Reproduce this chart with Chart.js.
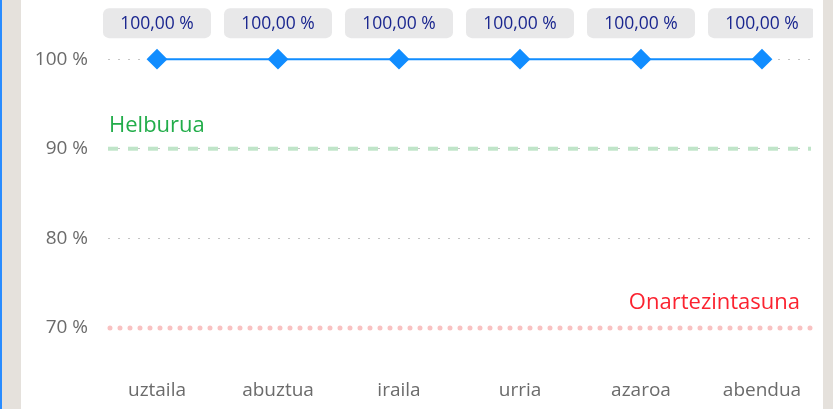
<!DOCTYPE html>
<html>
<head>
<meta charset="utf-8">
<script src="https://cdn.jsdelivr.net/npm/chart.js@4/dist/chart.umd.min.js"></script>
<style>
  html, body { margin: 0; padding: 0; }
  body { width: 833px; height: 409px; background: #e5e1dc; position: relative; overflow: hidden; }
  #borde { position: absolute; left: 0; top: 0; width: 2px; height: 409px; background: #2a8cff; }
  #panel { position: absolute; left: 21px; top: 0; width: 802px; height: 409px; background: #fff; }
</style>
</head>
<body>
<div id="borde"></div>
<div id="panel"><canvas id="lienzo" width="802" height="409"></canvas></div>
<script>
// Datos del gráfico
const meses = ['uztaila', 'abuztua', 'iraila', 'urria', 'azaroa', 'abendua'];
const valores = [100, 100, 100, 100, 100, 100];
const etiquetasY = [70, 80, 90, 100];

// Líneas de referencia
const refNombres = ['Helburua', 'Onartezintasuna'];
const refValores = [90, 70];

const fuente = "'Open Sans', 'Noto Sans', sans-serif";

// Plugin para las líneas de referencia
const lineasRef = {
  id: 'lineasRef',
  beforeDatasetsDraw(chart) {
    const c = chart.ctx;
    const area = chart.chartArea;
    const y = chart.scales.y;
    c.save();
    // Helburua (verde, rayas)
    let py = y.getPixelForValue(refValores[0]);
    c.strokeStyle = '#c0e5c9';
    c.lineWidth = 4;
    c.setLineDash([10, 10]);
    c.beginPath();
    c.moveTo(area.left, py);
    c.lineTo(area.right, py);
    c.stroke();
    c.setLineDash([]);
    c.fillStyle = '#22ad4a';
    c.font = '22px ' + fuente;
    c.textAlign = 'left';
    c.textBaseline = 'middle';
    c.fillText(refNombres[0], area.left + 1, py - 23);

    // Onartezintasuna (rojo, puntos)
    py = y.getPixelForValue(refValores[1]);
    c.strokeStyle = '#f9c2c2';
    c.lineWidth = 5;
    c.lineCap = 'round';
    c.setLineDash([0, 10]);
    c.beginPath();
    c.moveTo(area.left + 2, py);
    c.lineTo(area.right, py);
    c.stroke();
    c.setLineDash([]);
    c.fillStyle = '#fb2330';
    c.font = '22px ' + fuente;
    c.textAlign = 'right';
    c.fillText(refNombres[1], area.right - 11, py - 25);
    c.restore();
  }
};

// Plugin para las etiquetas de datos
const etiquetas = {
  id: 'etiquetas',
  afterDatasetsDraw(chart) {
    const c = chart.ctx;
    const area = chart.chartArea;
    const meta = chart.getDatasetMeta(0);
    c.save();
    c.beginPath();
    c.rect(0, 0, area.right + 2, chart.height);
    c.clip();
    meta.data.forEach((p, i) => {
      const w = 108, h = 30;
      const x = p.x - w / 2, yy = p.y - 51;
      c.fillStyle = '#e8e8e9';
      c.beginPath();
      c.roundRect(x, yy, w, h, 6);
      c.fill();
      c.fillStyle = '#1a268f';
      c.font = '500 17.5px ' + fuente;
      c.textAlign = 'center';
      c.textBaseline = 'middle';
      c.fillText(valores[i].toFixed(2).replace('.', ',') + ' %', p.x, yy + h / 2 + 1);
    });
    c.restore();
  }
};

const ctx = document.getElementById('lienzo').getContext('2d');
const myChart = new Chart(ctx, {
  type: 'line',
  data: {
    datasets: [{
      data: valores.map((v, i) => ({ x: i, y: v })),
      borderColor: '#118dff',
      backgroundColor: '#118dff',
      borderWidth: 2,
      pointStyle: 'rectRot',
      pointRadius: 9,
      pointHoverRadius: 9,
      clip: false
    }]
  },
  options: {
    responsive: false,
    animation: false,
    layout: { autoPadding: false, padding: { left: 0, right: 12, top: 0, bottom: 0 } },
    plugins: { legend: { display: false }, tooltip: { enabled: false } },
    scales: {
      x: {
        type: 'linear',
        min: -0.405,
        max: 5.405,
        afterBuildTicks: s => { s.ticks = meses.map((m, i) => ({ value: i })); },
        afterFit: s => { s.height = 39; s.paddingLeft = 0; s.paddingRight = 0; },
        ticks: {
          callback: v => meses[v],
          color: '#6b6b6b',
          font: { family: fuente, size: 19 },
          padding: 1,
          maxRotation: 0
        },
        grid: { display: false },
        border: { display: false }
      },
      y: {
        min: 65.3,
        max: 106.6,
        afterBuildTicks: s => { s.ticks = etiquetasY.map(v => ({ value: v })); },
        afterFit: s => { s.width = 87; s.paddingTop = 0; s.paddingBottom = 0; },
        ticks: {
          callback: v => v + ' %',
          color: '#6b6b6b',
          font: { family: fuente, size: 19 },
          padding: 20
        },
        grid: { color: '#c4c4c4', lineWidth: 1, drawTicks: false },
        border: { display: false, dash: [2, 8] }
      }
    }
  },
  plugins: [lineasRef, etiquetas]
});
</script>
</body>
</html>
